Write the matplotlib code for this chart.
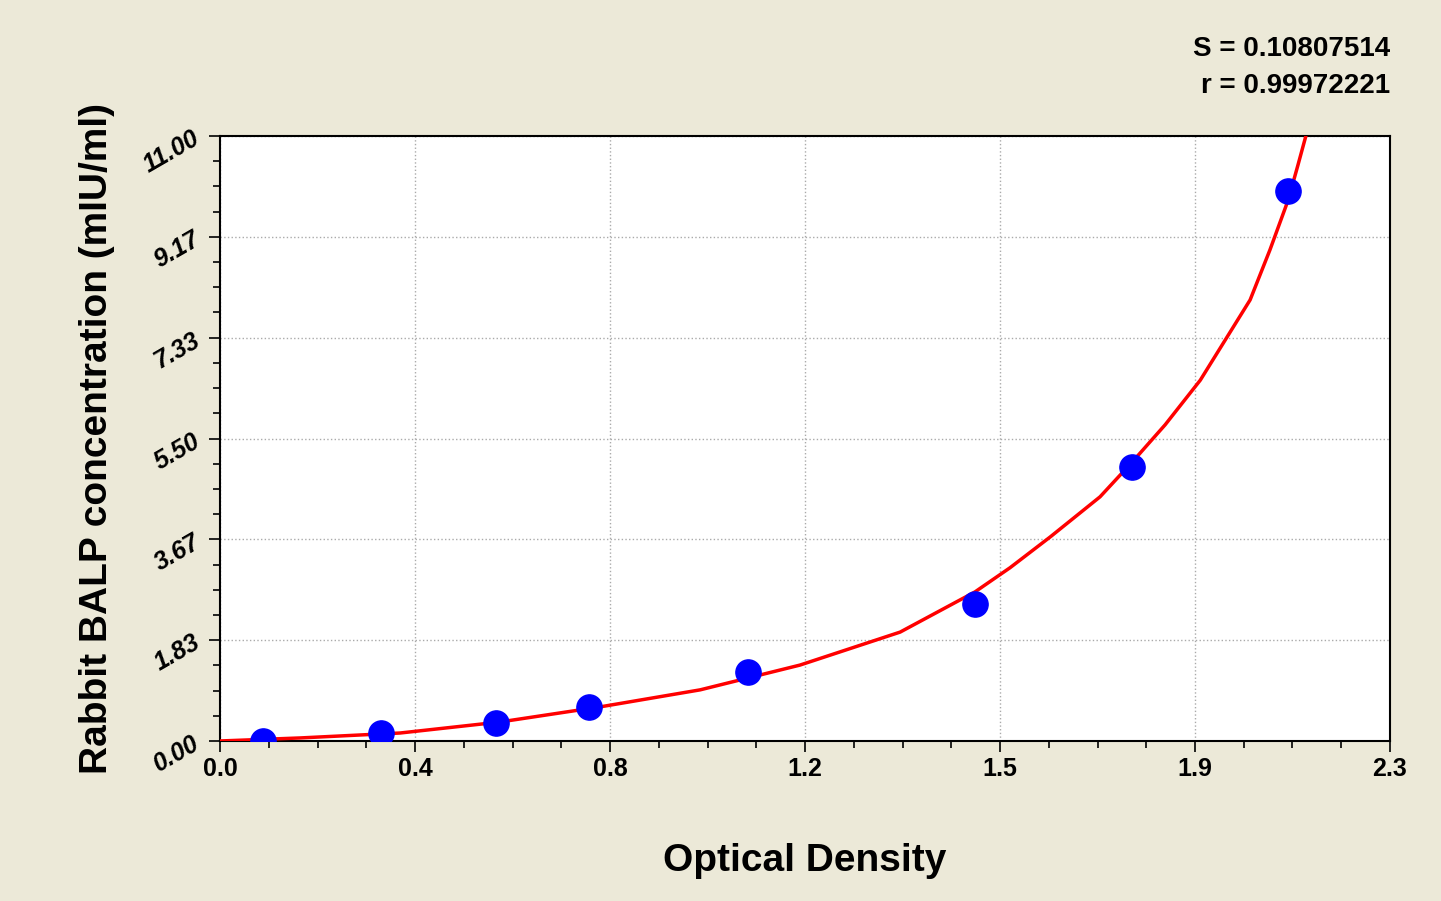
import matplotlib.pyplot as plt
from matplotlib.ticker import AutoMinorLocator

plt.rcParams['font.family'] = ['Liberation Sans', 'DejaVu Sans']

# standard points (OD, concentration)
od = [0.085, 0.316, 0.543, 0.726, 1.038, 1.484, 1.793, 2.100]
conc = [0.0, 0.145, 0.33, 0.62, 1.25, 2.49, 4.98, 10.0]

# fitted curve
curve_x = [0.0, 0.157, 0.354, 0.550, 0.747, 0.944, 1.140, 1.337, 1.484, 1.553,
           1.632, 1.730, 1.793, 1.858, 1.927, 1.976, 2.025, 2.064, 2.100, 2.119, 2.139]
curve_y = [0.0, 0.055, 0.145, 0.345, 0.62, 0.93, 1.38, 1.98, 2.71, 3.15,
           3.71, 4.44, 5.07, 5.75, 6.56, 7.29, 8.02, 8.93, 9.84, 10.47, 11.15]

xticks = [0.0, 2.3 / 6, 2 * 2.3 / 6, 3 * 2.3 / 6, 4 * 2.3 / 6, 5 * 2.3 / 6, 2.3]
xlabels = ["0.0", "0.4", "0.8", "1.2", "1.5", "1.9", "2.3"]
yticks = [0.0, 11 / 6, 2 * 11 / 6, 3 * 11 / 6, 4 * 11 / 6, 5 * 11 / 6, 11.0]
ylabels = ["0.00", "1.83", "3.67", "5.50", "7.33", "9.17", "11.00"]

bg = "#ece9d8"
fig = plt.figure(figsize=(14.41, 9.01), dpi=100, facecolor=bg)
ax = fig.add_axes([0.1527, 0.1776, 0.8119, 0.6714])
ax.set_facecolor("white")

ax.plot(curve_x, curve_y, color="#ff0000", lw=2.5, zorder=3)
ax.scatter(od, conc, s=330, color="#0000ff", zorder=4)

ax.set_xlim(0, 2.3)
ax.set_ylim(0, 11)
ax.set_xticks(xticks)
ax.set_xticklabels(xlabels, fontsize=18, fontweight="bold")
ax.set_yticks(yticks)
ax.set_yticklabels(ylabels, fontsize=18, fontweight="bold", style="italic", rotation=30)
ax.xaxis.set_minor_locator(AutoMinorLocator(4))
ax.yaxis.set_minor_locator(AutoMinorLocator(4))
ax.tick_params(which="major", length=8, width=1.2, direction="out")
ax.tick_params(which="minor", length=5, width=1.2, direction="out")
ax.grid(True, which="major", color="#aaaaaa", ls=":", lw=1)
for sp in ax.spines.values():
    sp.set_linewidth(1.5)

ax.set_xlabel("Optical Density", fontsize=28, fontweight="bold", labelpad=45)
ax.set_ylabel("Rabbit BALP concentration (mIU/ml)", fontsize=28, fontweight="bold", labelpad=18)

fig.text(0.965, 0.946, "S = 0.10807514", ha="right", va="center", fontsize=20, fontweight="bold")
fig.text(0.965, 0.904, "r = 0.99972221", ha="right", va="center", fontsize=20, fontweight="bold")

fig.savefig("out.png", dpi=100, facecolor=bg)
